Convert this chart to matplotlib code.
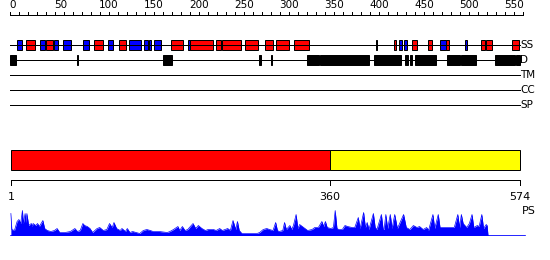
import matplotlib
matplotlib.use("Agg")
import matplotlib.pyplot as plt

# protein length and domains
seq_len = 574
dom_start = [1, 360]
dom_end = [360, 574]
dom_colors = ["#ff0000", "#ffff00"]
dom_ticks = [1, 360, 574]

# secondary structure (start, end, type) H = helix (red), E = strand (blue)
ss_start = [8, 18, 34, 41, 50, 60, 82, 94, 110, 123, 134, 151, 156, 162, 181, 200, 203, 232, 239, 265,
            287, 299, 320, 412, 432, 438, 443, 452, 470, 484, 491, 512, 530, 536, 565]
ss_end = [14, 28, 39, 48, 54, 69, 89, 105, 116, 130, 147, 155, 159, 170, 195, 203, 228, 237, 260, 279,
          296, 314, 336, 413, 435, 441, 447, 458, 475, 491, 494, 514, 535, 542, 573]
ss_type = ["E", "H", "E", "H", "E", "E", "E", "H", "E", "H", "E", "E", "E", "E", "H", "E", "H", "H", "H", "H",
           "H", "H", "H", "X", "H", "E", "E", "H", "H", "E", "H", "E", "H", "H", "H"]

# disorder regions
dis_start = [0, 75, 172, 280, 294, 334, 349, 410, 445, 450, 456, 492, 508, 546, 570]
dis_end = [7, 76, 182, 283, 295, 348, 404, 440, 448, 453, 480, 507, 525, 568, 574]

track_names = ["SS", "D", "TM", "CC", "SP"]

# PS profile (residue, score)
ps_pos = [1, 2, 5, 8, 10, 12, 14, 15, 17, 18, 19, 21, 24, 25, 26, 29, 31, 33, 35, 37, 39, 42, 46, 50, 53,
          56, 62, 68, 73, 76, 79, 82, 84, 87, 90, 93, 98, 101, 105, 109, 112, 115, 117, 120, 124, 126, 130,
          132, 135, 138, 142, 146, 150, 154, 158, 161, 168, 177, 180, 184, 189, 191, 194, 197, 200, 206, 209,
          212, 216, 220, 223, 229, 232, 236, 239, 245, 248, 251, 254, 256, 258, 261, 267, 272, 278, 281, 285,
          289, 292, 296, 299, 301, 303, 307, 309, 311, 315, 317, 319, 322, 324, 326, 329, 332, 335, 340, 343,
          347, 351, 353, 355, 357, 361, 364, 366, 368, 370, 374, 377, 380, 385, 388, 392, 394, 398, 400, 402,
          404, 409, 411, 413, 418, 420, 421, 423, 425, 428, 430, 433, 436, 443, 446, 450, 454, 458, 461, 465,
          469, 471, 476, 478, 482, 484, 487, 500, 504, 506, 508, 510, 514, 517, 520, 522, 526, 528, 531, 533,
          536, 537, 538]
ps_val = [22, 6, 5, 14, 16, 12, 25, 12, 22, 13, 22, 10, 12, 9, 12, 10, 12, 9, 12, 15, 7, 5, 4, 5, 7,
          3, 3, 4, 7, 4, 5, 12, 10, 9, 7, 3, 7, 8, 5, 6, 12, 8, 13, 7, 5, 7, 4,
          7, 3, 4, 3, 2, 5, 6, 5, 4, 4, 3, 4, 6, 9, 5, 9, 5, 6, 12, 7,
          10, 7, 5, 6, 6, 5, 7, 5, 7, 5, 15, 6, 14, 5, 2, 2, 2, 2, 3, 6,
          7, 6, 5, 13, 5, 4, 5, 13, 6, 10, 6, 10, 21, 7, 11, 9, 7, 5, 6, 8,
          8, 14, 9, 14, 8, 7, 8, 25, 7, 6, 6, 10, 9, 8, 8, 18, 7, 23, 8, 13,
          6, 22, 8, 6, 21, 6, 6, 21, 7, 21, 7, 21, 7, 21, 8, 6, 10, 8, 9, 6,
          8, 5, 21, 7, 21, 8, 8, 8, 21, 8, 21, 12, 8, 12, 21, 8, 10, 9, 21, 7,
          11, 10, 0]
ps_end = 580

# layout (pixels)
W, H = 550, 260
x0 = 10
scale = 510 / seq_len        # px per residue for tracks
ruler_scale = 0.9            # px per residue for top ruler
lw = 0.72
fs = 7.5

fig = plt.figure(figsize=(W / 100, H / 100), dpi=100)

# top ruler
axr = fig.add_axes([0, 0, 1, 1])
axr.set_xlim(-x0 / ruler_scale, (W - x0) / ruler_scale)
axr.set_ylim(H, 0)
axr.axis("off")
axr.plot([0, 570], [15, 15], color="black", lw=lw)
for t in range(0, 571, 10):
    axr.plot([t, t], [11.5, 15], color="black", lw=lw)
    if t % 50 == 0:
        axr.text(t - 1, 10.5, str(t), ha="left", va="bottom", fontsize=fs)

# tracks and domain bar
ax = fig.add_axes([0, 0, 1, 1])
ax.set_xlim(-x0 / scale, (W - x0) / scale)
ax.set_ylim(H, 0)
ax.axis("off")
ax.patch.set_alpha(0)

track_y = [45, 60, 75, 90, 105]
for name, y in zip(track_names, track_y):
    ax.plot([0, seq_len], [y, y], color="black", lw=lw)
    ax.text(seq_len + 0.5, y, name, ha="left", va="center", fontsize=fs)

ss_col = {"H": "#ff0000", "E": "#0000ff", "X": "#000000"}
ax.bar(ss_start, 10, width=[e - s for s, e in zip(ss_start, ss_end)], bottom=40, align="edge",
       color=[ss_col[t] for t in ss_type], edgecolor="black", linewidth=lw)
ax.bar(dis_start, 10, width=[e - s for s, e in zip(dis_start, dis_end)], bottom=55, align="edge",
       color="black", edgecolor="black", linewidth=lw)

ax.bar(dom_start, 20, width=[e - s for s, e in zip(dom_start, dom_end)], bottom=150, align="edge",
       color=dom_colors, edgecolor="black", linewidth=lw)

ax.plot([dom_ticks[0], dom_ticks[-1]], [180, 180], color="black", lw=lw)
for t in dom_ticks:
    ax.plot([t, t], [180, 185], color="black", lw=lw)
    ax.text(t, 191.5, str(t), ha="center", va="top", fontsize=fs + 0.5)
ax.text(seq_len + 2, 211, "PS", ha="left", va="center", fontsize=fs + 0.5)

# PS profile
axp = fig.add_axes([0, (H - 235.5) / H, 1, 30 / H])
axp.set_xlim(-x0 / scale, (W - x0) / scale)
axp.set_ylim(0, 30)
axp.axis("off")
axp.patch.set_alpha(0)
axp.fill_between(ps_pos, 0, ps_val, color="#0000ff", lw=0)
axp.plot(ps_pos, ps_val, color="#0000ff", lw=0.5)
axp.plot([ps_pos[0], ps_end], [0, 0], color="#0000ff", lw=1.2)

fig.savefig("out.png", dpi=100)
